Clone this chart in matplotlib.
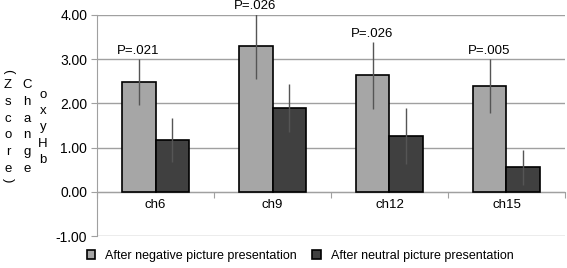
import matplotlib
matplotlib.use('Agg')
import matplotlib.pyplot as plt
import numpy as np

plt.rcParams['font.family'] = ['Liberation Sans', 'DejaVu Sans']

channels = ['ch6', 'ch9', 'ch12', 'ch15']
negative = [2.48, 3.29, 2.64, 2.39]
negative_err = [0.52, 0.73, 0.76, 0.61]
neutral = [1.17, 1.90, 1.27, 0.55]
neutral_err = [0.49, 0.54, 0.63, 0.40]
p_labels = ['P=.021', 'P=.026', 'P=.026', 'P=.005']
series_names = ['After negative picture presentation',
                'After neutral picture presentation']
ylabel_cols = ['Zscore', 'Change', 'oxyHb']

W, H = 567, 268
fig = plt.figure(figsize=(W / 100, H / 100), dpi=100)
ax = fig.add_axes([97 / W, 1 - 236 / H, (565 - 97) / W, (236 - 15) / H])

x = np.arange(len(channels))
w = 0.29
grid_c = '#a0a0a0'
ekw = dict(ecolor='#555555', elinewidth=1.0, capsize=0)

b1 = ax.bar(x - w / 2, negative, w, yerr=negative_err, color='#a6a6a6',
            edgecolor='black', linewidth=1.2, error_kw=ekw, zorder=3)
b2 = ax.bar(x + w / 2, neutral, w, yerr=neutral_err, color='#404040',
            edgecolor='black', linewidth=1.2, error_kw=ekw, zorder=3)

for xi, v, e, t in zip(x, negative, negative_err, p_labels):
    ax.text(xi - w / 2, v + e + 0.04, t, ha='center', va='bottom', fontsize=9.5)

ax.set_xlim(-0.5, len(channels) - 0.5)
ax.set_ylim(-1, 4)
ax.set_yticks(np.arange(-1, 5))
ax.set_yticklabels(['%.2f' % v for v in np.arange(-1, 5)], fontsize=10)
ax.yaxis.grid(True, color=grid_c, linewidth=1.0, zorder=0)
ax.set_axisbelow(True)

for s in ['top', 'right']:
    ax.spines[s].set_visible(False)
ax.spines['left'].set_color(grid_c)
ax.spines['bottom'].set_color(grid_c)
ax.spines['bottom'].set_position(('data', 0))
ax.spines['bottom'].set_zorder(2)

ax.set_xticks(np.arange(len(channels) + 1) - 0.5)
ax.set_xticklabels([])
ax.set_xticks(x, minor=True)
ax.set_xticklabels(channels, minor=True, fontsize=9.5)
ax.tick_params(axis='x', which='major', direction='out', length=4, color=grid_c)
ax.tick_params(axis='x', which='minor', length=0, pad=5)
ax.tick_params(axis='y', direction='out', length=4, color=grid_c, pad=3)

# stacked vertical y label
row_start = [85, 85, 95]
row_step = [16.8, 16.8, 16.2]
for word, xc, y0, st in zip(ylabel_cols, [8, 27, 43], row_start, row_step):
    for ri, ch in enumerate(word):
        fig.text(xc / W, 1 - (y0 + ri * st) / H, ch, ha='center',
                 va='center', fontsize=9.5)
fig.text(8 / W, 1 - 71 / H, '(', rotation=-90, ha='center', va='center',
         fontsize=9.5)
fig.text(8 / W, 1 - 180 / H, ')', rotation=-90, ha='center', va='center',
         fontsize=9.5)

fig.legend([b1, b2], series_names, loc='center', ncol=2, frameon=False,
           bbox_to_anchor=(300 / W, 1 - 256 / H), fontsize=9,
           handlelength=0.7, handleheight=0.7, handletextpad=0.8,
           columnspacing=1.2)

fig.savefig('out.png', dpi=100)
